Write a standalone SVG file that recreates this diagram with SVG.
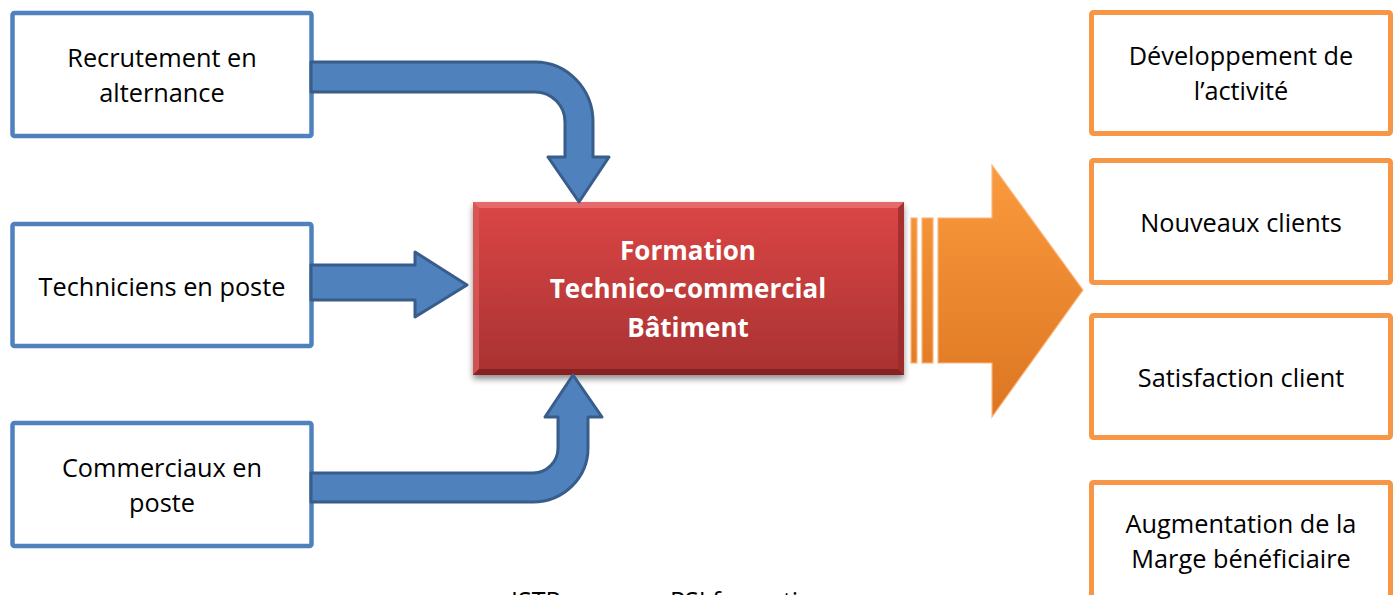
<svg xmlns="http://www.w3.org/2000/svg" width="1397" height="595" viewBox="0 0 1397 595">
  <defs>
    <style>
      .lbl { font-family: "Open Sans", "Noto Sans", "Liberation Sans", sans-serif; font-size: 25.3px; fill: #000; text-anchor: middle; }
      .title { font-family: "Open Sans", "Noto Sans", "Liberation Sans", sans-serif; font-size: 26px; font-weight: bold; fill: #fff; text-anchor: middle; }
      .foot { font-family: "Open Sans", "Noto Sans", "Liberation Sans", sans-serif; font-size: 25px; fill: #000; }
      .inbox { fill: #fff; stroke: #4f81bd; stroke-width: 4.5; }
      .outbox { fill: #fff; stroke: #f79646; stroke-width: 5; }
      .flow { fill: #4f81bd; stroke: #385d8a; stroke-width: 3; stroke-linejoin: round; }
      .big { fill: url(#orangeGrad); stroke: #fbb67c; stroke-width: 1.2; }
    </style>
    <linearGradient id="redGrad" x1="0" y1="0" x2="0" y2="1">
      <stop offset="0" stop-color="#dc4646"/>
      <stop offset="1" stop-color="#a83131"/>
    </linearGradient>
    <linearGradient id="orangeGrad" gradientUnits="userSpaceOnUse" x1="0" y1="165" x2="0" y2="417">
      <stop offset="0" stop-color="#fb9a3e"/>
      <stop offset="1" stop-color="#dc7621"/>
    </linearGradient>
    <filter id="shadow" x="-10%" y="-10%" width="120%" height="130%">
      <feGaussianBlur in="SourceAlpha" stdDeviation="3"/>
      <feOffset dx="0" dy="4" result="b"/>
      <feComponentTransfer><feFuncA type="linear" slope="0.45"/></feComponentTransfer>
      <feMerge><feMergeNode/><feMergeNode in="SourceGraphic"/></feMerge>
    </filter>
  </defs>

  <rect width="1397" height="595" fill="#fff"/>

  <!-- input nodes -->
  <g id="recrutement">
    <rect class="inbox" x="12.5" y="13" width="299" height="123" rx="2"/>
    <text class="lbl" x="162" y="67">Recrutement en</text>
    <text class="lbl" x="162" y="102">alternance</text>
  </g>
  <g id="techniciens">
    <rect class="inbox" x="12.5" y="224" width="299" height="122" rx="2"/>
    <text class="lbl" x="162" y="296">Techniciens en poste</text>
  </g>
  <g id="commerciaux">
    <rect class="inbox" x="12.5" y="423" width="299" height="123" rx="2"/>
    <text class="lbl" x="162" y="477">Commerciaux en</text>
    <text class="lbl" x="162" y="512">poste</text>
  </g>

  <!-- central training node -->
  <g id="formation">
    <g filter="url(#shadow)">
      <rect x="473" y="202" width="431" height="173" fill="url(#redGrad)"/>
    </g>
    <!-- bevel edges -->
    <polygon points="473,202 904,202 898,208 479,208" fill="#ea7070" opacity="0.85"/>
    <polygon points="473,202 479,208 479,369 473,375" fill="#d85a5a" opacity="0.8"/>
    <polygon points="904,202 904,375 898,369 898,208" fill="#9a2a2a" opacity="0.8"/>
    <polygon points="473,375 479,369 898,369 904,375" fill="#822020" opacity="0.85"/>
    <text class="title" x="688" y="260">Formation</text>
    <text class="title" x="688" y="298">Technico-commercial</text>
    <text class="title" x="688" y="337">Bâtiment</text>
  </g>

  <!-- outcome nodes -->
  <g id="developpement">
    <rect class="outbox" x="1091.5" y="12.5" width="299" height="121" rx="2"/>
    <text class="lbl" x="1241" y="65">Développement de</text>
    <text class="lbl" x="1241" y="100">l’activité</text>
  </g>
  <g id="nouveaux-clients">
    <rect class="outbox" x="1091.5" y="160.5" width="299" height="122" rx="2"/>
    <text class="lbl" x="1241" y="232">Nouveaux clients</text>
  </g>
  <g id="satisfaction">
    <rect class="outbox" x="1091.5" y="315.5" width="299" height="122" rx="2"/>
    <text class="lbl" x="1241" y="387">Satisfaction client</text>
  </g>
  <g id="marge">
    <rect class="outbox" x="1091.5" y="482.5" width="299" height="140" rx="2"/>
    <text class="lbl" x="1241" y="533">Augmentation de la</text>
    <text class="lbl" x="1241" y="568">Marge bénéficiaire</text>
  </g>

  <!-- connectors -->
  <g id="connectors">
    <path class="flow" d="M311 62 H535 A58 60 0 0 1 593 122 V157 H609 L579 202 L548 157 H565 V122 A30 30 0 0 0 535 92 H311 Z"/>
    <path class="flow" d="M311 265 H415 V252 L467 285 L415 317 V300 H311 Z"/>
    <path class="flow" d="M311 473 H533 A25 25 0 0 0 558 448 V417 H545 L573 375 L602 417 H588 V448 A55 54 0 0 1 533 502 H311 Z"/>
    <!-- striped output arrow -->
    <rect class="big" x="911" y="218" width="6" height="145"/>
    <rect class="big" x="922" y="218" width="11" height="145"/>
    <path class="big" d="M938 218 H992 V165 L1083 290 L992 417 V363 H938 Z"/>
  </g>

  <!-- footer line -->
  <text class="foot" x="511" y="610">ISTP</text>
  <text class="foot" x="670" y="610">PSI formation</text>
</svg>
